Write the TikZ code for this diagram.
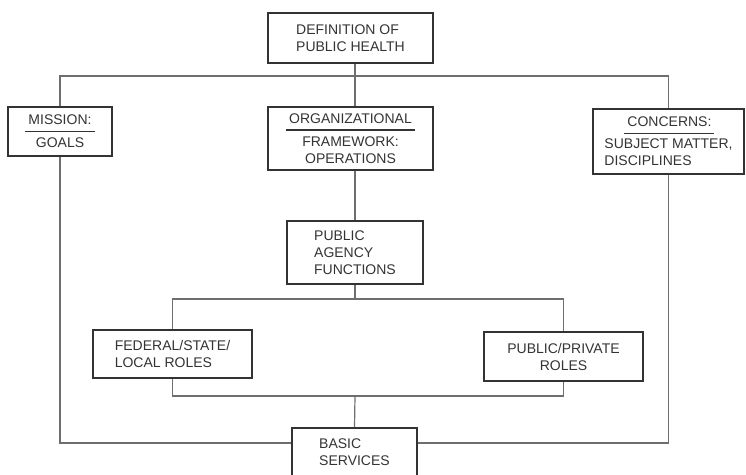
\documentclass[tikz,border=0pt]{standalone}
\usepackage{fontspec}
\setmainfont{Liberation Sans}
\usetikzlibrary{positioning}
\definecolor{inkgray}{HTML}{333333}
\definecolor{linegray}{HTML}{6E6E6E}
\newcommand{\headline}[1]{\setbox0\hbox{\kern3pt#1\kern3pt}\rlap{\smash{\rule[-7.5pt]{\wd0}{1.5pt}}}\box0}

\begin{document}
\begin{tikzpicture}[x=1pt, y=1pt,
        box/.style={draw=inkgray, line width=1.8pt, text=inkgray, inner sep=0pt,
            font=\fontsize{14}{17}\selectfont},
        link/.style={draw=linegray, line width=1.2pt}]
        \useasboundingbox (0,0) rectangle (746,474);
        % boxes
        \node[box, minimum width=165pt, minimum height=50pt, align=left] (def) at (350.5,436) {DEFINITION OF\\PUBLIC HEALTH};
        \node[box, minimum width=104pt, minimum height=49pt, align=center] (mission) at (60,342.5) {\headline{MISSION:}\\[6pt]GOALS};
        \node[box, minimum width=165pt, minimum height=63pt, align=center] (org) at (350.5,335.5) {\headline{ORGANIZATIONAL}\\[6pt]FRAMEWORK:\\OPERATIONS};
        \node[box, minimum width=151pt, minimum height=65pt, align=left] (concerns) at (668.5,332.5) {\hspace*{20pt}\headline{CONCERNS:}\\[5pt]SUBJECT MATTER,\\DISCIPLINES};
        \node[box, minimum width=136pt, minimum height=63pt, align=left] (agency) at (355,221.5) {PUBLIC\\AGENCY\\FUNCTIONS};
        \node[box, minimum width=159pt, minimum height=48pt, align=left] (federal) at (172.5,120) {FEDERAL/STATE/\\LOCAL ROLES};
        \node[box, minimum width=159pt, minimum height=49pt, align=center] (private) at (563.5,117.5) {PUBLIC/PRIVATE\\ROLES};
        \node[box, minimum width=125pt, minimum height=48pt, align=left] (basic) at (354.5,22) {BASIC\\SERVICES};
        % junctions
        \coordinate (topbar) at (355,398);
        \coordinate (split) at (355,175);
        \coordinate (join) at (355,78);
        \coordinate (botbar) at (355,31);
        % connectors
        \draw[link] (def.south -| agency) -- (org.north -| agency);
        \draw[link] (mission.north) |- (topbar) -| (concerns.north);
        \draw[link] (org.south -| agency) -- (agency.north);
        \draw[link] (agency.south) -- (split);
        \draw[link] (federal.north) |- (split) -| (private.north);
        \draw[link] (federal.south) |- (join) -| (private.south);
        \draw[link] (join) -- (basic.north);
        \draw[link] (mission.south) |- (basic.west |- botbar);
        \draw[link] (concerns.south) |- (basic.east |- botbar);
\end{tikzpicture}
\end{document}
